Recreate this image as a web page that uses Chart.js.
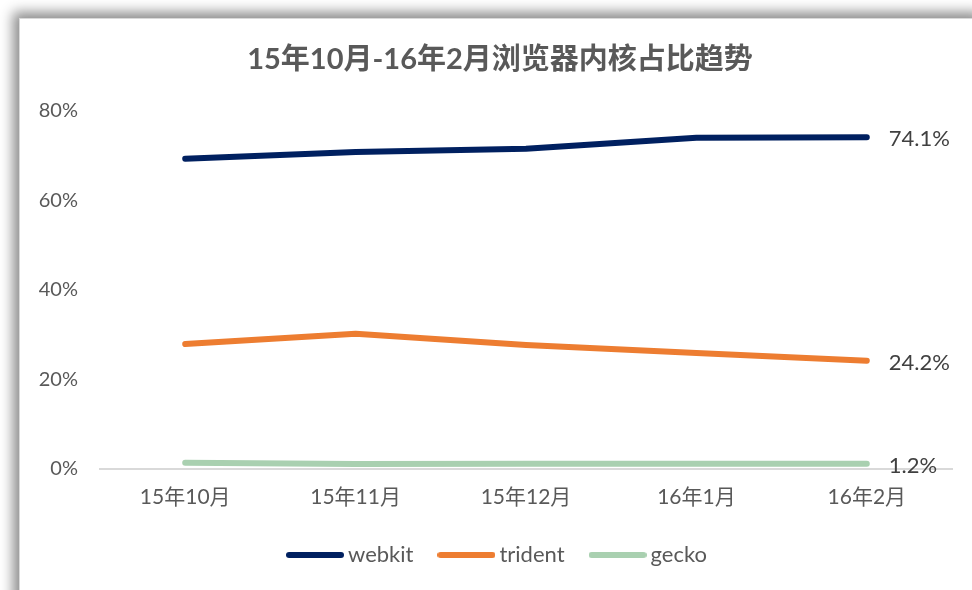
<!DOCTYPE html>
<html>
<head>
<meta charset="utf-8">
<style>
  html, body { margin: 0; padding: 0; background: #fff; overflow: hidden; width: 972px; height: 590px; }
  #frame {
    position: absolute; left: 19px; top: 18px; width: 960px; height: 620px;
    background: #fff; border: 1px solid #d9d9d9;
    box-shadow: -3px -3px 12px 3px rgba(0,0,0,0.45);
  }
  #chartBox { position: absolute; left: 0; top: 0; width: 960px; height: 571px; }
</style>
</head>
<body>
<div id="frame">
  <div id="chartBox"><canvas id="coreChart"></canvas></div>
</div>

<script src="https://cdn.jsdelivr.net/npm/chart.js"></script>
<script>
// số liệu
const months = ["15年10月", "15年11月", "15年12月", "16年1月", "16年2月"];
const webkit = [69.3, 70.8, 71.5, 74.0, 74.1];
const trident = [27.9, 30.2, 27.7, 25.9, 24.2];
const gecko = [1.4, 1.1, 1.2, 1.2, 1.2];
const yTicks = [0, 20, 40, 60, 80];

const FONT = "Lato, 'Noto Sans CJK SC', sans-serif";

// ký hiệu chú giải: đoạn thẳng đầu tròn, dài hơn ô để chữ sát vào
function legendLine(color) {
    const c = document.createElement("canvas");
    c.width = 58; c.height = 8;
    const g = c.getContext("2d");
    g.strokeStyle = color;
    g.lineWidth = 6;
    g.lineCap = "round";
    g.beginPath();
    g.moveTo(3, 4);
    g.lineTo(55, 4);
    g.stroke();
    return c;
}

// nhãn giá trị ở điểm cuối mỗi đường
const endLabels = {
    id: "endLabels",
    afterDatasetsDraw(chart) {
        const ctx = chart.ctx;
        ctx.save();
        ctx.font = "22px " + FONT;
        ctx.fillStyle = "#404040";
        ctx.textAlign = "left";
        ctx.textBaseline = "middle";
        chart.data.datasets.forEach((ds, i) => {
            const meta = chart.getDatasetMeta(i);
            const last = meta.data[meta.data.length - 1];
            const v = ds.data[ds.data.length - 1];
            ctx.fillText(v.toFixed(1) + "%", last.x + 22, last.y + 2);
        });
        ctx.restore();
    }
};

new Chart(document.getElementById("coreChart"), {
    type: "line",
    data: {
        labels: months,
        datasets: [
            { label: "webkit", data: webkit, borderColor: "#002060", backgroundColor: "#002060" },
            { label: "trident", data: trident, borderColor: "#ED7D31", backgroundColor: "#ED7D31" },
            { label: "gecko", data: gecko, borderColor: "#A9D0B0", backgroundColor: "#A9D0B0" }
        ].map(d => Object.assign(d, {
            fill: false, borderWidth: 6, pointRadius: 0, tension: 0,
            borderCapStyle: "round", borderJoinStyle: "round"
        }))
    },
    options: {
        responsive: true,
        maintainAspectRatio: false,
        animation: false,
        layout: { padding: { left: 0, right: 0, top: 0, bottom: 14 } },
        plugins: {
            title: {
                display: true,
                text: "15年10月-16年2月浏览器内核占比趋势",
                color: "#595959",
                font: { family: FONT, size: 29, weight: "bold" },
                padding: { top: 23, bottom: 34 }
            },
            legend: {
                position: "bottom",
                labels: {
                    usePointStyle: true,
                    pointStyleWidth: 44,
                    color: "#595959",
                    padding: 31,
                    font: { family: FONT, size: 22 },
                    generateLabels(chart) {
                        const items = Chart.defaults.plugins.legend.labels.generateLabels(chart);
                        return items.map(it => Object.assign(it, {
                            pointStyle: legendLine(chart.data.datasets[it.datasetIndex].borderColor)
                        }));
                    }
                }
            },
            tooltip: { enabled: false }
        },
        scales: {
            x: {
                offset: true,
                grid: { display: false, drawTicks: false },
                border: { display: true, color: "#d9d9d9", width: 2 },
                ticks: { color: "#595959", font: { family: FONT, size: 21 }, padding: 16, maxRotation: 0 },
                afterFit(s) { s.height = 44; }
            },
            y: {
                min: 0,
                max: 80,
                grid: { display: false, drawTicks: false },
                border: { display: false },
                afterBuildTicks(s) { s.ticks = yTicks.map(v => ({ value: v })); },
                ticks: {
                    color: "#595959",
                    font: { family: FONT, size: 20 },
                    padding: 22,
                    callback: v => v + "%"
                },
                afterFit(s) { s.width = 80; }
            },
            // trục trống bên phải chỉ để chừa lề, tiêu đề vẫn căn giữa cả khung
            yR: {
                position: "right",
                min: 0,
                max: 80,
                grid: { display: false, drawTicks: false },
                border: { display: false },
                ticks: { display: false },
                afterFit(s) { s.width = 28; }
            }
        }
    },
    plugins: [endLabels]
});
</script>
</body>
</html>
